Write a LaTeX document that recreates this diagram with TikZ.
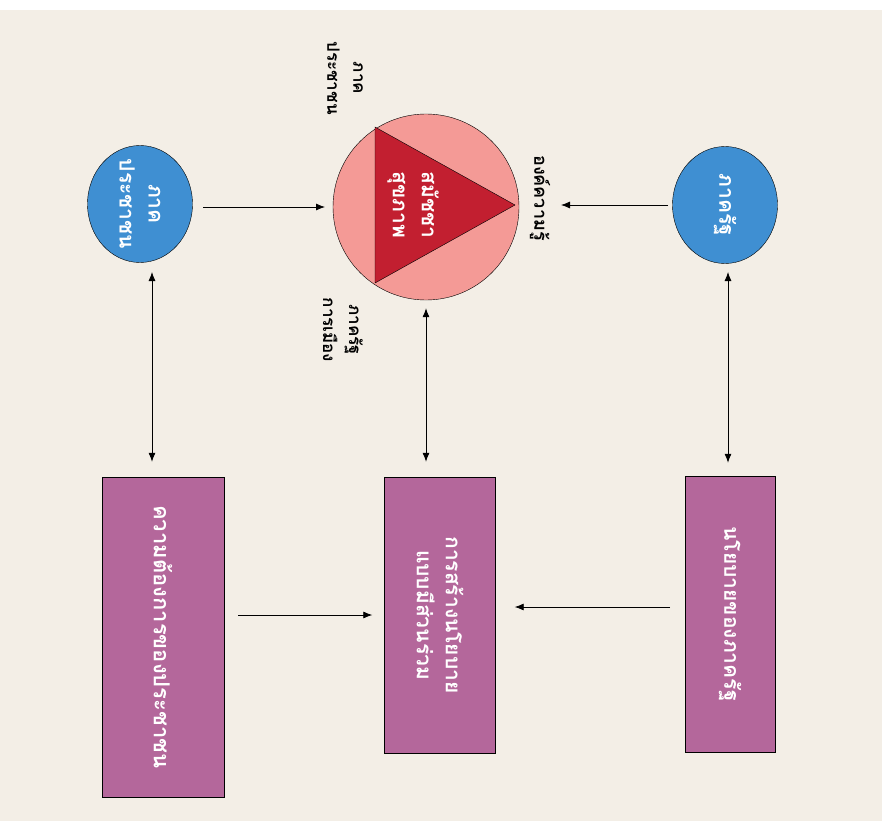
\documentclass[tikz,border=0pt]{standalone}
\usepackage{fontspec}
\newfontfamily\thaifont[Script=Thai]{Loma}
\usetikzlibrary{positioning, arrows.meta, shapes.geometric}
\definecolor{bgbeige}{HTML}{F3EEE6}
\definecolor{stateblue}{HTML}{3F8FD2}
\definecolor{assemblypink}{HTML}{F49A96}
\definecolor{assemblyred}{HTML}{C21F30}
\definecolor{policypurple}{HTML}{B4679B}

\begin{document}
\begin{tikzpicture}[
    x=1pt, y=-1pt,
    sector/.style={ellipse, draw, fill=stateblue, minimum width=105pt, minimum height=117pt, inner sep=0pt},
    policybox/.style={rectangle, draw, fill=policypurple, inner sep=0pt},
    boxtext/.style={font=\thaifont\bfseries\fontsize{21}{29}\selectfont, text=white, rotate=-90, align=center},
    sidelabel/.style={font=\thaifont\bfseries\fontsize{17}{26}\selectfont, rotate=-90, align=center},
    link/.style={-{Latex[length=9pt, width=7pt]}, thick},
    twoway/.style={{Latex[length=9pt, width=7pt]}-{Latex[length=9pt, width=7pt]}, thick}
    ]
\useasboundingbox (0,0) rectangle (890,821);
\fill[bgbeige] (0,10) rectangle (882,821);

% circles
\node[sector] (people) at (140,204) {};
\node[boxtext] at (people) {ภาค\\ประชาชน};
\node[sector] (state) at (725,205) {};
\node[boxtext] at (state) {ภาครัฐ};

% assembly
\node[circle, draw, fill=assemblypink, minimum size=186pt, inner sep=0pt] (assembly) at (426,207) {};
\draw[fill=assemblyred] (375,127) coordinate (tA) -- (515,205) coordinate (tB) -- (375,283) coordinate (tC) -- cycle;
\node[boxtext] (asmtext) at (413,205) {สมัชชา\\สุขภาพ};
\node[sidelabel] (lblpeople) at (345,78) {ภาค\\ประชาชน};
\node[sidelabel] (lblpolit) at (343,330) {ภาครัฐ\\การเมือง};
\node[sidelabel, font=\thaifont\bfseries\fontsize{18}{26}\selectfont] (lblknow) at (540,198) {องค์ความรู้};

% boxes
\node[policybox, minimum width=122pt, minimum height=320pt] (needs) at (163,637) {};
\node[boxtext, font=\thaifont\bfseries\fontsize{22}{29}\selectfont] at (needs) {ความต้องการของประชาชน};
\node[policybox, minimum width=111pt, minimum height=276pt] (build) at (440,615) {};
\node[boxtext] at (build) {การสร้างนโยบาย\\แบบมีส่วนร่วม};
\node[policybox, minimum width=90pt, minimum height=276pt] (statepol) at (730,614) {};
\node[boxtext] at (statepol) {นโยบายของภาครัฐ};

% connectors
\coordinate (p1) at (203,207);
\coordinate (p2) at (325,207);
\draw[link] (p1) -- (p2);
\coordinate (s1) at (668,205);
\coordinate (s2) at (561,205);
\draw[link] (s1) -- (s2);
\coordinate (pv) at (152,272);
\draw[twoway] (pv) -- ([yshift=15pt]needs.north -| pv);
\draw[twoway] ([yshift=-8pt]assembly.south) -- ([yshift=15pt]build.north -| assembly.south);
\coordinate (sv) at (728,272);
\draw[twoway] (sv) -- ([yshift=13pt]statepol.north -| sv);
\coordinate (n1) at (238,615);
\draw[link] (n1) -- ([xshift=-12pt]build.west |- n1);
\coordinate (r1) at (670,607);
\draw[link] (r1) -- ([xshift=19pt]build.east |- r1);
\end{tikzpicture}
\end{document}
